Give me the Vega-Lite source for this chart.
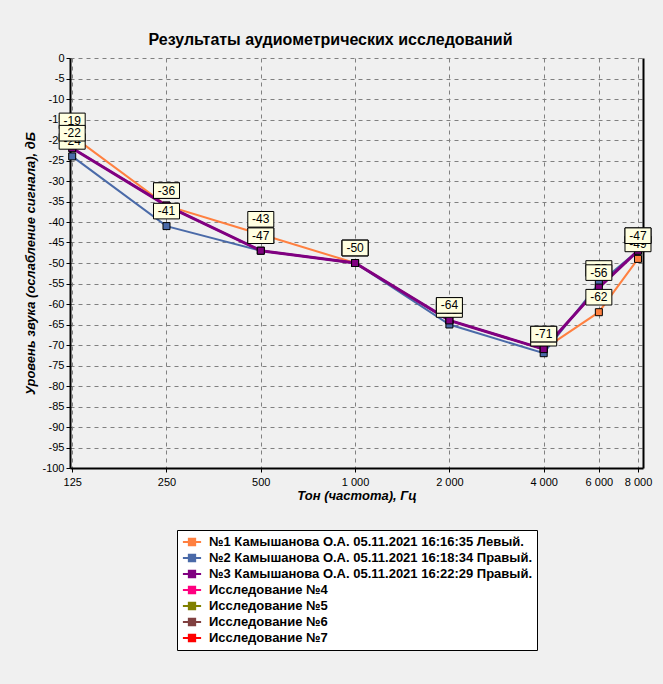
{
  "$schema": "https://vega.github.io/schema/vega-lite/v6.json",
  "autosize": "none",
  "width": 573,
  "height": 410,
  "padding": {"left": 70, "top": 58, "right": 20, "bottom": 216},
  "background": "#f0f0f0",
  "config": {
    "view": {"stroke": null},
    "font": "Liberation Sans",
    "axis": {"labelFont": "Liberation Sans", "titleFont": "Liberation Sans"},
    "locale": {
      "number": {"decimal": ",", "thousands": " ", "grouping": [3], "currency": ["", ""], "minus": "-"}
    }
  },
  "title": {
    "text": "Результаты аудиометрических исследований",
    "fontSize": 16,
    "fontWeight": "bold",
    "font": "Liberation Sans",
    "color": "black",
    "anchor": "middle",
    "dx": -26,
    "offset": 4
  },
  "data": {
    "values": [
      {"series": "№1 Камышанова О.А. 05.11.2021 16:16:35 Левый.", "freq": 125, "value": -19},
      {"series": "№1 Камышанова О.А. 05.11.2021 16:16:35 Левый.", "freq": 250, "value": -36},
      {"series": "№1 Камышанова О.А. 05.11.2021 16:16:35 Левый.", "freq": 500, "value": -43},
      {"series": "№1 Камышанова О.А. 05.11.2021 16:16:35 Левый.", "freq": 1000, "value": -50},
      {"series": "№1 Камышанова О.А. 05.11.2021 16:16:35 Левый.", "freq": 2000, "value": -64},
      {"series": "№1 Камышанова О.А. 05.11.2021 16:16:35 Левый.", "freq": 4000, "value": -71},
      {"series": "№1 Камышанова О.А. 05.11.2021 16:16:35 Левый.", "freq": 6000, "value": -62},
      {"series": "№1 Камышанова О.А. 05.11.2021 16:16:35 Левый.", "freq": 8000, "value": -49},
      {"series": "№2 Камышанова О.А. 05.11.2021 16:18:34 Правый.", "freq": 125, "value": -24},
      {"series": "№2 Камышанова О.А. 05.11.2021 16:18:34 Правый.", "freq": 250, "value": -41},
      {"series": "№2 Камышанова О.А. 05.11.2021 16:18:34 Правый.", "freq": 500, "value": -47},
      {"series": "№2 Камышанова О.А. 05.11.2021 16:18:34 Правый.", "freq": 1000, "value": -50},
      {"series": "№2 Камышанова О.А. 05.11.2021 16:18:34 Правый.", "freq": 2000, "value": -65},
      {"series": "№2 Камышанова О.А. 05.11.2021 16:18:34 Правый.", "freq": 4000, "value": -72},
      {"series": "№2 Камышанова О.А. 05.11.2021 16:18:34 Правый.", "freq": 6000, "value": -55},
      {"series": "№2 Камышанова О.А. 05.11.2021 16:18:34 Правый.", "freq": 8000, "value": -47},
      {"series": "№3 Камышанова О.А. 05.11.2021 16:22:29 Правый.", "freq": 125, "value": -22},
      {"series": "№3 Камышанова О.А. 05.11.2021 16:22:29 Правый.", "freq": 250, "value": -36},
      {"series": "№3 Камышанова О.А. 05.11.2021 16:22:29 Правый.", "freq": 500, "value": -47},
      {"series": "№3 Камышанова О.А. 05.11.2021 16:22:29 Правый.", "freq": 1000, "value": -50},
      {"series": "№3 Камышанова О.А. 05.11.2021 16:22:29 Правый.", "freq": 2000, "value": -64},
      {"series": "№3 Камышанова О.А. 05.11.2021 16:22:29 Правый.", "freq": 4000, "value": -71},
      {"series": "№3 Камышанова О.А. 05.11.2021 16:22:29 Правый.", "freq": 6000, "value": -56},
      {"series": "№3 Камышанова О.А. 05.11.2021 16:22:29 Правый.", "freq": 8000, "value": -47}
    ]
  },
  "encoding": {
    "x": {
      "field": "freq",
      "type": "quantitative",
      "scale": {"type": "log", "base": 2, "domain": [123, 8300], "nice": false},
      "title": "Тон (частота), Гц",
      "axis": {
        "values": [125, 250, 500, 1000, 2000, 4000, 6000, 8000],
        "format": ",d",
        "labelFontSize": 11,
        "labelColor": "black",
        "labelPadding": 4,
        "tickColor": "black",
        "tickSize": 4,
        "domainColor": "black",
        "domainWidth": 2,
        "grid": true,
        "gridColor": "#808080",
        "gridDash": [4, 4],
        "titleFontSize": 13,
        "titleFontWeight": "bold",
        "titleFontStyle": "italic",
        "titleColor": "black",
        "titlePadding": 2
      }
    },
    "y": {"field": "value", "type": "quantitative"}
  },
  "layer": [
    {
      "encoding": {
        "y": {
          "field": "value",
          "type": "quantitative",
          "scale": {"domain": [-100, 0], "nice": false, "zero": false},
          "title": "Уровень звука (ослабление сигнала), дБ",
          "axis": {
            "values": [-100, -95, -90, -85, -80, -75, -70, -65, -60, -55, -50, -45, -40, -35, -30, -25, -20, -15, -10, -5, 0],
            "format": "d",
            "labelFontSize": 11,
            "labelColor": "black",
            "labelPadding": 2,
            "tickColor": "black",
            "tickSize": 4,
            "domainColor": "black",
            "domainWidth": 2,
            "grid": true,
            "gridColor": "#808080",
            "gridDash": [4, 4],
            "titleFontSize": 13,
            "titleFontWeight": "bold",
            "titleFontStyle": "italic",
            "titleColor": "black",
            "titlePadding": 4
          }
        }
      },
      "layer": [
        {
          "mark": {"type": "line", "strokeWidth": 2},
          "encoding": {
            "color": {
              "field": "series",
              "type": "nominal",
              "scale": {
                "domain": [
                  "№1 Камышанова О.А. 05.11.2021 16:16:35 Левый.",
                  "№2 Камышанова О.А. 05.11.2021 16:18:34 Правый.",
                  "№3 Камышанова О.А. 05.11.2021 16:22:29 Правый.",
                  "Исследование №4",
                  "Исследование №5",
                  "Исследование №6",
                  "Исследование №7"
                ],
                "range": ["#ff8040", "#4a6aa8", "#800080", "#ff0080", "#808000", "#804040", "#ff0000"]
              },
              "legend": {
                "orient": "none",
                "legendX": 107,
                "legendY": 472,
                "title": null,
                "symbolType": "M-1.3,0H1.3M-0.45,-0.45H0.45V0.45H-0.45Z",
                "symbolSize": 196,
                "symbolStrokeWidth": 2,
                "labelFont": "Liberation Sans",
                "labelFontWeight": "bold",
                "labelFontSize": 13,
                "labelColor": "black",
                "labelLimit": 400,
                "labelOffset": 9,
                "fillColor": "white",
                "strokeColor": "black",
                "padding": 4,
                "rowPadding": 0,
                "symbolOffset": 3,
                "encode": {
                  "symbols": {
                    "update": {
                      "fill": {"scale": "color", "field": "value"},
                      "fillOpacity": {"value": 1}
                    }
                  }
                }
              }
            }
          }
        },
        {
          "transform": [{"filter": {"field": "series", "equal": "№3 Камышанова О.А. 05.11.2021 16:22:29 Правый."}}],
          "mark": {"type": "line", "strokeWidth": 3, "color": "#800080"}
        },
        {
          "mark": {"type": "point", "shape": "square", "filled": true, "size": 49, "opacity": 1, "stroke": "#000000", "strokeWidth": 1},
          "encoding": {
            "color": {"field": "series", "type": "nominal", "legend": null}
          }
        },
        {
          "transform": [{"filter": {"field": "series", "equal": "№2 Камышанова О.А. 05.11.2021 16:18:34 Правый."}}],
          "layer": [
            {"mark": {"type": "point", "shape": "M-1,-0.6H1V0.6H-1Z", "size": 676, "filled": true, "fill": "#ffffe1", "stroke": "black", "strokeWidth": 1, "opacity": 1, "yOffset": -15}},
            {"mark": {"type": "text", "fontSize": 12, "yOffset": -15, "baseline": "middle", "color": "black"}, "encoding": {"text": {"field": "value", "type": "quantitative", "format": "d"}}}
          ]
        },
        {
          "transform": [{"filter": {"field": "series", "equal": "№1 Камышанова О.А. 05.11.2021 16:16:35 Левый."}}],
          "layer": [
            {"mark": {"type": "point", "shape": "M-1,-0.6H1V0.6H-1Z", "size": 676, "filled": true, "fill": "#ffffe1", "stroke": "black", "strokeWidth": 1, "opacity": 1, "yOffset": -15}},
            {"mark": {"type": "text", "fontSize": 12, "yOffset": -15, "baseline": "middle", "color": "black"}, "encoding": {"text": {"field": "value", "type": "quantitative", "format": "d"}}}
          ]
        },
        {
          "transform": [{"filter": {"field": "series", "equal": "№3 Камышанова О.А. 05.11.2021 16:22:29 Правый."}}],
          "layer": [
            {"mark": {"type": "point", "shape": "M-1,-0.6H1V0.6H-1Z", "size": 676, "filled": true, "fill": "#ffffe1", "stroke": "black", "strokeWidth": 1, "opacity": 1, "yOffset": -15}},
            {"mark": {"type": "text", "fontSize": 12, "yOffset": -15, "baseline": "middle", "color": "black"}, "encoding": {"text": {"field": "value", "type": "quantitative", "format": "d"}}}
          ]
        }
      ]
    },
    {
      "mark": {"type": "line", "opacity": 0},
      "encoding": {
        "y": {
          "field": "value",
          "type": "quantitative",
          "title": null,
          "axis": {"orient": "right", "labels": false, "ticks": false, "grid": false, "domainColor": "black", "domainWidth": 2}
        }
      }
    }
  ],
  "resolve": {"axis": {"y": "independent"}}
}
